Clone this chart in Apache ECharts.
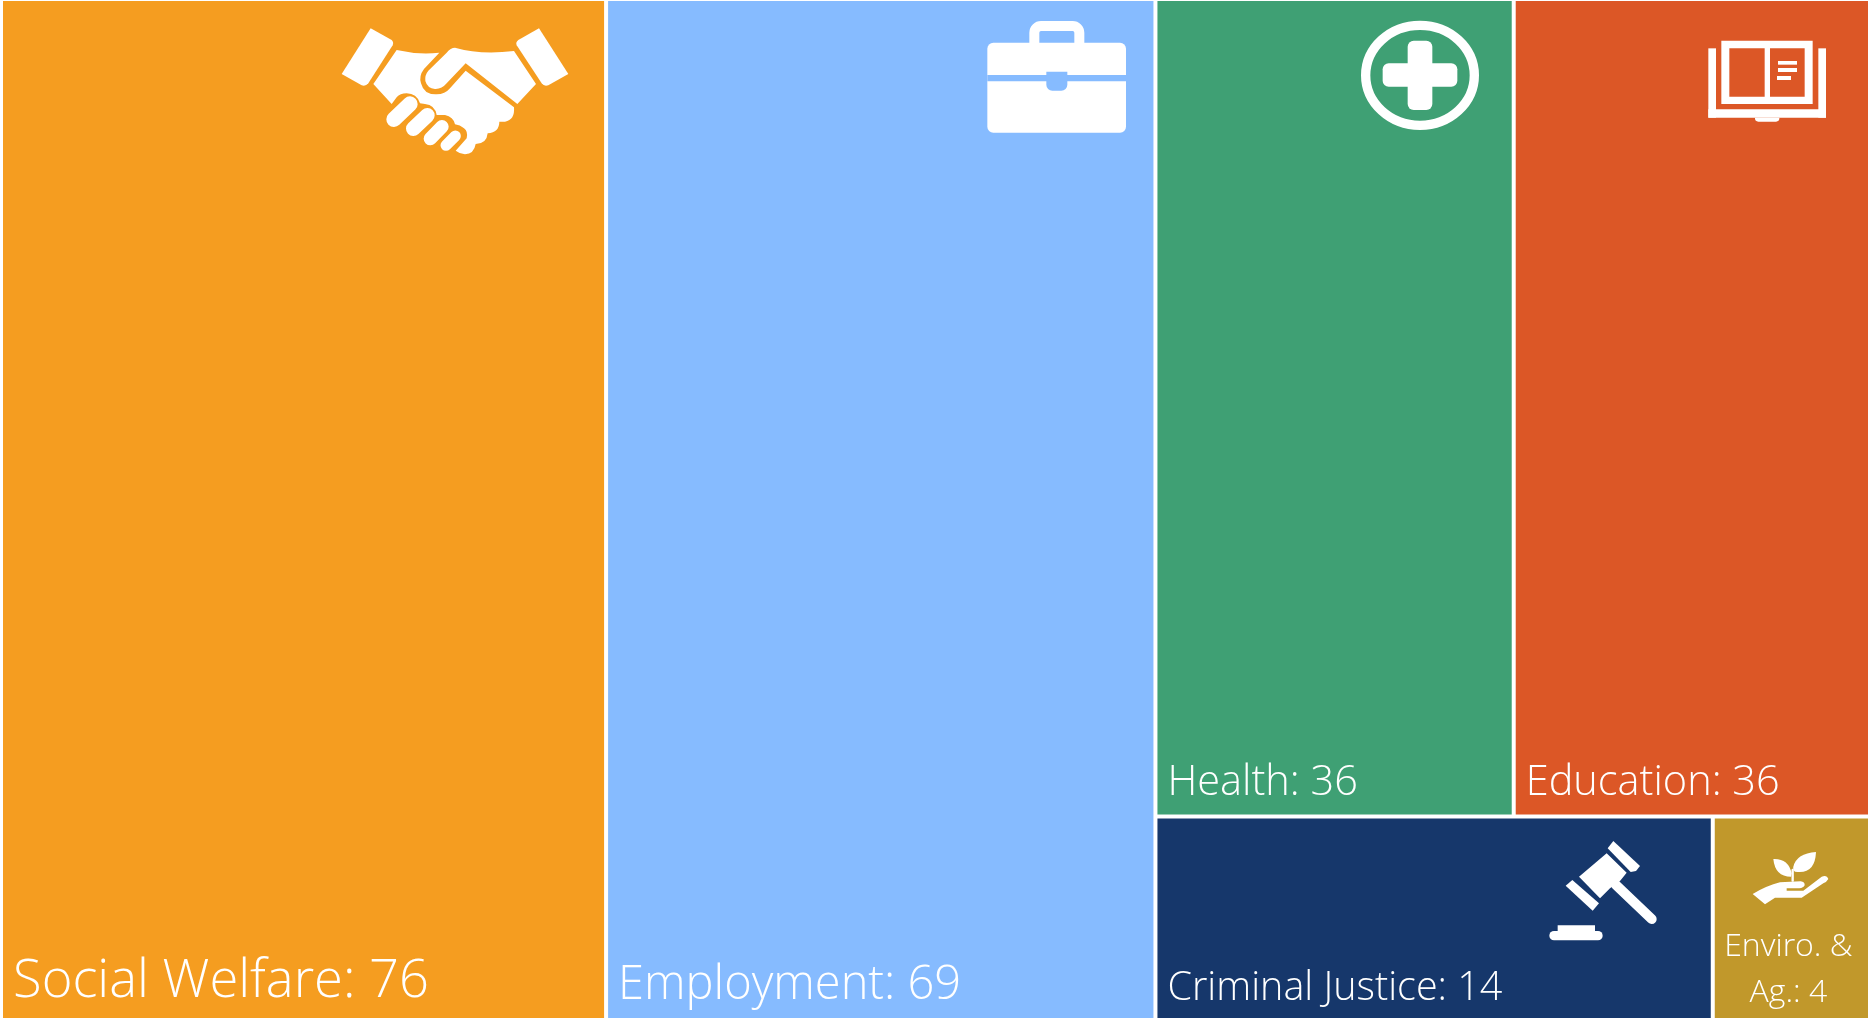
<!DOCTYPE html>
<html>
<head>
<meta charset="utf-8">
<title>Treemap</title>
<script src="https://cdn.jsdelivr.net/npm/echarts@6/dist/echarts.min.js"></script>
<style>
html, body { margin: 0; background: #fff; }
#main { width: 1868px; height: 1018px; }
</style>
</head>
<body>
<div id="main"></div>
<script>
// values
const mainNames = ['Social Welfare', 'Employment'];
const mainValues = [76, 69];
const mainColors = ['#F59D20', '#86BBFF'];
const mainFontSizes = [52.5, 47];

const sideNames = ['Health', 'Education', 'Criminal Justice', 'Enviro. &\nAg.'];
const sideValues = [36, 36, 14, 4];
const sideColors = ['#3FA074', '#DC5726', '#16376B', '#C1982B'];
const sideFontSizes = [41.5, 41.5, 39.5, 32];

function leaf(name, value, color, fontSize) {
    return {
        name: name,
        value: value,
        itemStyle: { color: color },
        label: { fontSize: fontSize }
    };
}

const treeData = [
    leaf(mainNames[0], mainValues[0], mainColors[0], mainFontSizes[0]),
    leaf(mainNames[1], mainValues[1], mainColors[1], mainFontSizes[1]),
    {
        name: 'Other',
        children: sideNames.map((n, i) => leaf(n, sideValues[i], sideColors[i], sideFontSizes[i]))
    }
];
// last one is two centred lines
treeData[2].children[3].label.position = 'insideBottom';
treeData[2].children[3].label.align = 'center';
treeData[2].children[3].label.lineHeight = 46;
treeData[2].children[3].label.distance = -2;
treeData[2].children[3].label.offset = [-4, 0];

// icon paths, written in zoomed (3x) pixels and scaled down by the groups below
const iconPaths = {
    handshakeBack: 'M230,150 Q295,165 358,158 L312,207 Q296,228 303,250 Q312,285 350,283 Q375,283 390,265 L437,212 L582,322 Q585,360 555,365 L538,365 Q538,397 503,400 Q500,432 467,432 Q462,462 435,463 Q420,462 407,452 L440,415 Q445,395 432,385 Q420,375 405,373 Q400,350 375,345 L350,345 Q345,315 315,312 L300,310 Q290,280 260,280 Q240,280 230,292 L215,312 L160,252 Z',
    handshakeFront: 'M405,143 Q480,165 582,153 L648,252 L592,312 L437,190 L380,250 Q365,268 345,267 Q322,265 316,243 Q314,225 325,212 L380,158 Q392,143 405,143 Z',
    cuffLeft: 'M152,85 L215,120 Q222,127 218,136 L145,250 Q137,260 125,256 L65,222 Z',
    cuffRight: 'M657,85 L595,120 Q586,127 590,136 L665,250 Q672,260 685,256 L745,222 Z',
    plantHand: 'M728,222 Q770,197 810,187 L872,184 Q885,186 884,196 Q880,204 868,205 L830,205 L830,212 L880,212 L935,170 Q950,163 955,177 Q950,186 940,190 L875,233 L795,233 L765,253 Z',
    leafLeft: 'M790,117 Q835,115 845,160 L843,170 Q795,170 790,117 Z',
    leafRight: 'M918,96 Q860,100 850,140 Q848,150 855,155 Q915,165 918,96 Z'
};

Object.keys(iconPaths).forEach((k) => {
    echarts.graphic.registerShape(k, echarts.graphic.extendPath(iconPaths[k], {}));
});

const white = '#fff';
const blue = mainColors[1];
const orange = sideColors[1];

function rect(x, y, w, h, r, fill) {
    return { type: 'rect', z: 10, silent: true, shape: { x: x, y: y, width: w, height: h, r: r || 0 }, style: { fill: fill || white } };
}
function stick(x1, y1, x2, y2, w) {
    return { type: 'line', z: 10, silent: true, shape: { x1: x1, y1: y1, x2: x2, y2: y2 }, style: { stroke: white, lineWidth: w, lineCap: 'round' } };
}
function poly(points) {
    return { type: 'polygon', z: 10, silent: true, shape: { points: points }, style: { fill: white } };
}
function shape(name) {
    return { type: name, z: 10, silent: true, style: { fill: white } };
}
function icon(x, y, children) {
    return { type: 'group', x: x, y: y, scaleX: 1 / 3, scaleY: 1 / 3, silent: true, children: children };
}

const icons = [
    icon(320, 0, [
        shape('cuffLeft'), shape('cuffRight'), shape('handshakeBack'), shape('handshakeFront'),
        stick(222, 358, 270, 312, 46),
        stick(280, 386, 322, 346, 44),
        stick(331, 416, 366, 380, 40),
        stick(378, 436, 406, 408, 33)
    ]),
    icon(970, 0, [
        { type: 'rect', z: 10, silent: true, shape: { x: 193, y: 78, width: 135, height: 70, r: [20, 20, 0, 0] }, style: { fill: 'none', stroke: white, lineWidth: 30 } },
        rect(52, 128, 416, 270, 18),
        rect(52, 225, 416, 19, 0, blue),
        rect(229, 215, 63, 57, [0, 0, 18, 18], blue)
    ]),
    icon(1340, 0, [
        { type: 'ellipse', z: 10, silent: true, shape: { cx: 240, cy: 226, rx: 163, ry: 150 }, style: { fill: 'none', stroke: white, lineWidth: 28 } },
        rect(203, 122, 74, 208, 18),
        rect(128, 190, 224, 70, 18)
    ]),
    icon(1680, 20, [
        rect(85, 85, 23, 208),
        rect(415, 85, 23, 208),
        rect(85, 268, 353, 25),
        rect(225, 293, 73, 12, [0, 0, 10, 10]),
        rect(124, 62, 274, 190),
        rect(148, 85, 106, 145, 0, orange),
        rect(270, 85, 104, 145, 0, orange),
        rect(294, 123, 57, 11),
        rect(294, 144, 57, 12),
        rect(291, 168, 42, 12)
    ]),
    icon(1510, 820, [
        poly([[290, 100], [350, 158], [330, 183], [300, 205], [270, 235], [207, 170]]),
        stick(318, 195, 425, 297, 30),
        poly([[293, 85], [310, 63], [390, 138], [378, 153], [362, 156]]),
        poly([[167, 197], [187, 180], [267, 250], [248, 272]]),
        rect(143, 316, 112, 20),
        rect(118, 333, 160, 28, 14),
        shape('plantHand'), shape('leafLeft'), shape('leafRight'),
        stick(848, 150, 848, 182, 7)
    ])
];

const myChart = echarts.init(document.getElementById('main'));

const option = {
    animation: false,
    graphic: { elements: icons },
    series: [
        {
            type: 'treemap',
            left: 3,
            top: 1,
            width: 1867,
            height: 1018,
            roam: false,
            nodeClick: false,
            sort: false,
            // keeps health and education side by side
            squareRatio: 1.16,
            breadcrumb: { show: false },
            label: {
                show: true,
                position: 'insideBottomLeft',
                distance: 5,
                color: '#fff',
                fontFamily: 'Open Sans',
                fontWeight: 300,
                formatter: '{b}: {c}'
            },
            levels: [
                { itemStyle: { gapWidth: 4, borderWidth: 0 } },
                { itemStyle: { gapWidth: 4, borderWidth: 0 } },
                { itemStyle: { borderWidth: 0 } }
            ],
            data: treeData
        }
    ]
};

myChart.setOption(option);
</script>
</body>
</html>
